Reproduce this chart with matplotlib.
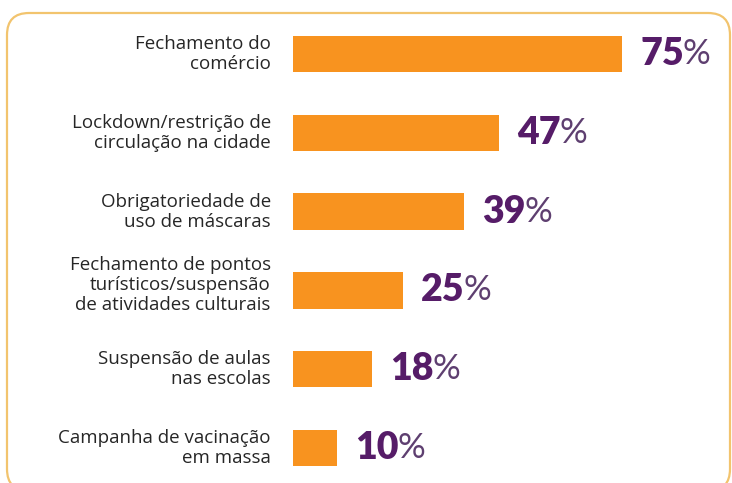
import matplotlib

matplotlib.use("Agg")

import matplotlib.pyplot as plt
from matplotlib.patches import FancyBboxPatch

labels = [
    "Fechamento do\ncomércio",
    "Lockdown/restrição de\ncirculação na cidade",
    "Obrigatoriedade de\nuso de máscaras",
    "Fechamento de pontos\nturísticos/suspensão\nde atividades culturais",
    "Suspensão de aulas\nnas escolas",
    "Campanha de vacinação\nem massa",
]
values = [75, 47, 39, 25, 18, 10]

ORANGE = "#F8931F"
PURPLE = "#561C68"
PCT_PURPLE = "#5E3F70"
BORDER = "#F2C46E"

W, H = 732, 483
fig = plt.figure(figsize=(W / 100, H / 100), dpi=100)
fig.patch.set_facecolor("white")

# background frame with rounded corners (pixel coordinates)
bg = fig.add_axes([0, 0, 1, 1])
bg.set_xlim(0, W)
bg.set_ylim(H, 0)
bg.axis("off")
bg.add_patch(FancyBboxPatch((7, 13), 723, 478, boxstyle="round,pad=0,rounding_size=22",
                            facecolor="white", edgecolor=BORDER, linewidth=1.6))

# bar axes: x=0 at 293px, 1% = 4.39px; first bar centre at 54px, spacing 78.8px
left_px, step, first = 293, 78.8, 54
ax = fig.add_axes([left_px / W, 0, 1 - left_px / W, 1])
ax.set_xlim(0, (W - left_px) / 4.39)
ax.set_ylim((H - first) / step, -first / step)
ax.axis("off")

ypos = list(range(len(values)))
ax.barh(ypos, values, height=0.46, color=ORANGE)

for y, lab in zip(ypos, labels):
    dy = 4 if lab.count("\n") > 1 else 0  # 3-line label sits a bit higher
    ax.annotate(lab, (0, y), xytext=(-16, dy), textcoords="offset points",
                ha="right", va="center", fontsize=13.5, family="Open Sans",
                color="#262626", linespacing=1.15)

fig.canvas.draw()
renderer = fig.canvas.get_renderer()
for y, v in zip(ypos, values):
    t = ax.annotate(str(v), (v, y), xytext=(13, 0), textcoords="offset points",
                    ha="left", va="center", fontsize=27, family="Lato",
                    fontweight="heavy", color=PURPLE)
    bb = t.get_window_extent(renderer)
    x_pt = (bb.x1 - bb.x0) * 72 / fig.dpi + 13 - 1
    ax.annotate("%", (v, y), xytext=(x_pt, 0), textcoords="offset points",
                ha="left", va="center", fontsize=25, family="Lato",
                fontweight="normal", color=PCT_PURPLE)

fig.savefig("out.png", dpi=100)
